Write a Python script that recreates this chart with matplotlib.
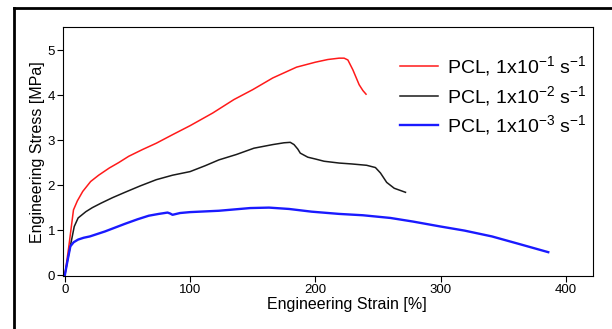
"""
plot.py -- tensile curves of PCL at three strain rates.
"""

import matplotlib
matplotlib.use("Agg")
import matplotlib.pyplot as plt
from matplotlib.lines import Line2D

plt.rcParams["font.family"] = ["Liberation Sans", "DejaVu Sans"]
plt.rcParams["mathtext.fontset"] = "custom"
plt.rcParams["mathtext.rm"] = "Liberation Sans"
plt.rcParams["mathtext.it"] = "Liberation Sans:italic"

# ── data ───────────────────────────────────────────────────────────────────
strain_r1 = [0, 3, 6.9, 10, 14.3, 20.6, 27, 35.5, 43, 51, 62, 73, 86, 100, 118,
             135, 150, 166, 185, 200, 210, 219, 223, 226, 230, 235, 238, 240.5]
stress_r1 = [0, 0.6, 1.45, 1.65, 1.86, 2.08, 2.22, 2.38, 2.5, 2.64, 2.79, 2.93,
             3.12, 3.32, 3.6, 3.9, 4.12, 4.38, 4.62, 4.73, 4.79, 4.82, 4.82, 4.78,
             4.56, 4.23, 4.1, 4.02]

strain_r2 = [0, 3, 7.5, 10.6, 16.8, 22, 29, 38, 48, 60, 73, 86, 100, 112, 123, 137,
             151, 166, 175, 180, 183, 186, 188, 194, 200, 207, 219, 229, 241, 248,
             252, 257, 263, 272]
stress_r2 = [0, 0.45, 1.08, 1.27, 1.41, 1.5, 1.6, 1.72, 1.84, 1.98, 2.12, 2.22,
             2.3, 2.43, 2.56, 2.68, 2.82, 2.9, 2.94, 2.95, 2.9, 2.8, 2.71, 2.62,
             2.58, 2.53, 2.49, 2.47, 2.44, 2.39, 2.27, 2.06, 1.93, 1.84]

strain_r3 = [0, 2, 4.4, 7, 10.6, 15, 20, 32, 48, 58, 67, 75, 82, 84, 86, 92, 100,
             123, 148, 163, 179, 197, 219, 238, 260, 278, 300, 319, 341, 363, 386]
stress_r3 = [0, 0.3, 0.64, 0.73, 0.79, 0.83, 0.86, 0.97, 1.14, 1.24, 1.32, 1.36,
             1.39, 1.37, 1.34, 1.38, 1.40, 1.43, 1.49, 1.5, 1.47, 1.41, 1.36, 1.33,
             1.27, 1.19, 1.08, 0.99, 0.86, 0.69, 0.51]

labels = [r"PCL, 1x10$^{\mathrm{-1}}$ s$^{\mathrm{-1}}$",
          r"PCL, 1x10$^{\mathrm{-2}}$ s$^{\mathrm{-1}}$",
          r"PCL, 1x10$^{\mathrm{-3}}$ s$^{\mathrm{-1}}$"]

x_ticks = [0, 100, 200, 300, 400]
y_ticks = [0, 1, 2, 3, 4, 5]

# ── figure ────────────────────────────────────────────────────────────────
fig = plt.figure(figsize=(6.12, 3.29), dpi=100)
ax = fig.add_axes([0.1035, 0.161, 0.866, 0.758])

ax.plot(strain_r1, stress_r1, color="#ff1a1a", linewidth=1.1, label=labels[0])
ax.plot(strain_r2, stress_r2, color="#1a1a1a", linewidth=1.1, label=labels[1])
ax.plot(strain_r3, stress_r3, color="#1a1aff", linewidth=1.7, label=labels[2])

ax.set_xlim(-1.2, 422)
ax.set_ylim(-0.02, 5.52)
ax.set_xticks(x_ticks)
ax.set_yticks(y_ticks)
ax.tick_params(direction="out", length=4, width=0.8, labelsize=9.5, pad=2)

for sp in ax.spines.values():
    sp.set_linewidth(0.8)

ax.set_xlabel("Engineering Strain [%]", fontsize=11.5)
ax.xaxis.set_label_coords(0.535, -0.085)
ax.set_ylabel("Engineering Stress [MPa]", fontsize=11.5)
ax.yaxis.set_label_coords(-0.034, 0.497)

ax.legend(loc="upper left", bbox_to_anchor=(0.636, 0.89), frameon=False,
          fontsize=14, handlelength=1.95, handletextpad=0.45,
          labelspacing=0.3, borderaxespad=0.0, borderpad=0.0)

# outer frame: only its left and top edges fall inside the picture
fx = 13.5 / 612
fy = 1 - 7.5 / 329
fig.add_artist(Line2D([fx, fx], [-0.1, fy], transform=fig.transFigure,
                      color="black", linewidth=2.0, solid_capstyle="projecting"))
fig.add_artist(Line2D([fx, 1.1], [fy, fy], transform=fig.transFigure,
                      color="black", linewidth=2.0, solid_capstyle="projecting"))

fig.savefig("out.png", dpi=100)
